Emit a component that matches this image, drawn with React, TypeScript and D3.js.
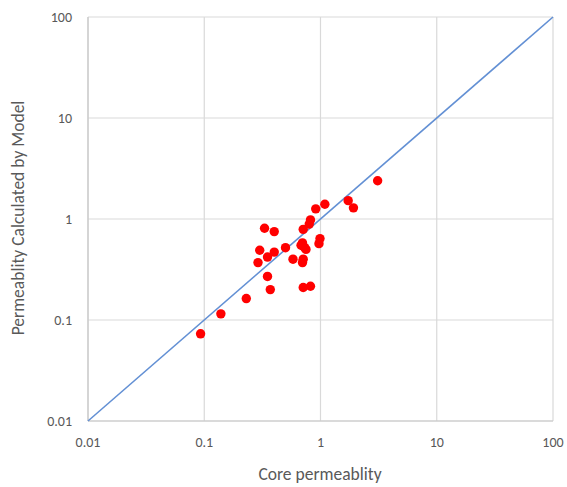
import React from "react";
import * as d3 from "d3";

const coreK = [3.1, 1.73, 1.92, 1.09, 0.91, 0.82, 0.8, 0.71, 0.33, 0.4, 0.99, 0.97, 0.71, 0.68, 0.73, 0.7, 0.75, 0.5, 0.3, 0.4, 0.35, 0.29, 0.58, 0.71, 0.7, 0.35, 0.37, 0.71, 0.82, 0.23, 0.139, 0.093];
const modelK = [2.39, 1.52, 1.29, 1.4, 1.26, 0.98, 0.89, 0.79, 0.81, 0.75, 0.64, 0.57, 0.54, 0.55, 0.52, 0.58, 0.5, 0.52, 0.49, 0.47, 0.42, 0.37, 0.4, 0.4, 0.37, 0.27, 0.2, 0.21, 0.216, 0.163, 0.115, 0.073];
const ticks = [0.01, 0.1, 1, 10, 100];
const tickLabels = ["0.01", "0.1", "1", "10", "100"];

export default function App() {
  const W = 567, H = 487;
  const x = d3.scaleLog().domain([0.01, 100]).range([88, 553]);
  const y = d3.scaleLog().domain([0.01, 100]).range([421, 17]);
  const font = "Calibri, Carlito, 'Open Sans', 'Liberation Sans', sans-serif";
  const grey = "#595959";
  return (
    <svg width={W} height={H} style={{ position: "absolute", left: 0, top: 0, background: "#fff" }}>
      {ticks.map((t, i) => (
        <g key={"g" + i}>
          <line x1={x(t)} x2={x(t)} y1={17} y2={421} stroke="#d9d9d9" strokeWidth={1.2} />
          <line x1={88} x2={553} y1={y(t)} y2={y(t)} stroke="#d9d9d9" strokeWidth={1.2} />
        </g>
      ))}
      <line x1={88} x2={88} y1={17} y2={421} stroke="#c8c8c8" strokeWidth={1.2} />
      <line x1={88} x2={553} y1={421} y2={421} stroke="#c8c8c8" strokeWidth={1.2} />
      <line x1={x(0.01)} y1={y(0.01)} x2={x(100)} y2={y(100)} stroke="#6390d4" strokeWidth={1.6} />
      {coreK.map((v, i) => (
        <circle key={"p" + i} cx={x(v)} cy={y(modelK[i])} r={4.7} fill="#FF0000" />
      ))}
      {ticks.map((t, i) => (
        <text key={"yl" + i} x={72} y={y(t)} dy="0.35em" textAnchor="end" fontSize={14} fill={grey} fontFamily={font}>
          {tickLabels[i]}
        </text>
      ))}
      {ticks.map((t, i) => (
        <text key={"xl" + i} x={x(t)} y={442} dy="0.35em" textAnchor="middle" fontSize={14} fill={grey} fontFamily={font}>
          {tickLabels[i]}
        </text>
      ))}
      <text x={320} y={474} dy="0.35em" textAnchor="middle" fontSize={17.5} fill={grey} fontFamily={font}>
        Core permeablity
      </text>
      <text transform="translate(18,218) rotate(-90)" dy="0.35em" textAnchor="middle" fontSize={17.5} fill={grey} fontFamily={font}>
        Permeablity Calculated by Model
      </text>
    </svg>
  );
}
